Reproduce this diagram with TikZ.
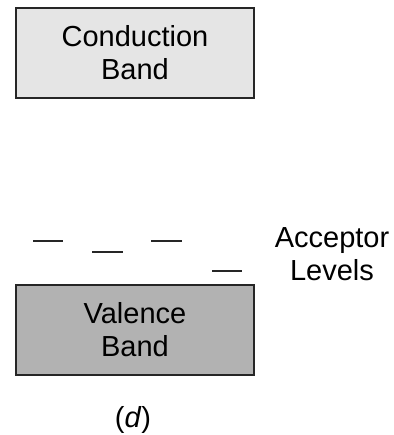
\documentclass[tikz,border=0pt]{standalone}
\usepackage{fontspec}
\setmainfont{Liberation Sans}
\begin{document}
\begin{tikzpicture}[x=1pt,y=-1pt,
  band/.style={draw=black!85,line width=1.6pt},
  lvl/.style={draw=black!85,line width=1.4pt},
  lbl/.style={font=\fontsize{29}{33}\selectfont,align=center,inner sep=0pt}]
\useasboundingbox (0,0) rectangle (393,435);
\filldraw[band,fill=black!10] (16,8) rectangle (254,98);
\node[lbl] (cb) at (135,53) {Conduction\\Band};
\filldraw[band,fill=black!30] (16,285) rectangle (254,375);
\node[lbl] (vb) at (135,330) {Valence\\Band};
\coordinate (a1) at (33,241); \coordinate (b1) at (63,241);
\coordinate (a2) at (92,252); \coordinate (b2) at (123,252);
\coordinate (a3) at (151,241); \coordinate (b3) at (182,241);
\coordinate (a4) at (212,271); \coordinate (b4) at (242,271);
\draw[lvl] (a1) -- (b1);
\draw[lvl] (a2) -- (b2);
\draw[lvl] (a3) -- (b3);
\draw[lvl] (a4) -- (b4);
\node[lbl] (acc) at (332,254) {Acceptor\\Levels};
\node[lbl] (d) at (133,420) {(\textit{d})};
\end{tikzpicture}
\end{document}
